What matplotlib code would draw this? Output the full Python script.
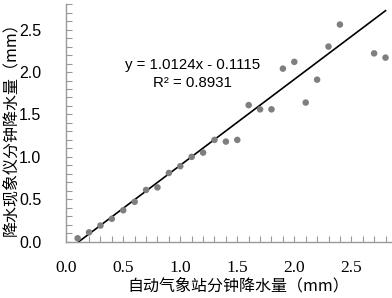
import numpy as np
import matplotlib.pyplot as plt
from matplotlib.ticker import MultipleLocator

# 自动气象站 vs 降水现象仪 分钟降水量 (mm)
aws_rain = [0.1, 0.2, 0.3, 0.4, 0.5, 0.6, 0.7, 0.8, 0.9, 1.0, 1.1, 1.2, 1.3,
            1.4, 1.5, 1.6, 1.7, 1.8, 1.9, 2.0, 2.1, 2.2, 2.3, 2.4, 2.7, 2.8]
disdro_rain = [0.04, 0.11, 0.19, 0.27, 0.37, 0.47, 0.61, 0.64, 0.81, 0.89, 1.0,
               1.05, 1.2, 1.18, 1.2, 1.61, 1.56, 1.56, 2.04, 2.12, 1.64, 1.91,
               2.3, 2.56, 2.22, 2.17]

slope = 1.0124
intercept = -0.1115
r2 = 0.8931

xticks = [0.0, 0.5, 1.0, 1.5, 2.0, 2.5]
yticks = [0.0, 0.5, 1.0, 1.5, 2.0, 2.5]

fig = plt.figure(figsize=(3.92, 2.98), dpi=100)
ax = fig.add_axes([0.169, 0.189, 0.829, 0.797])

ax.scatter(aws_rain, disdro_rain, s=22, color='#7f7f7f', edgecolors='none', zorder=3)

# trend line
x_line = np.array([-intercept / slope, 2.8])
ax.plot(x_line, slope * x_line + intercept, color='black', lw=1.2, zorder=2)

ax.text(1.107, 2.08, 'y = 1.0124x - 0.1115', ha='center', va='center',
        fontsize=10.8, family='Liberation Sans')
ax.text(1.107, 1.87, 'R² = ' + f'{r2:.4f}', ha='center', va='center',
        fontsize=10.8, family='Liberation Sans')

ax.set_xlim(0, 2.85)
ax.set_ylim(0, 2.8)
ax.set_xticks(xticks)
ax.set_xticklabels([f'{t:.1f}' for t in xticks], family='Liberation Serif', fontsize=12.5)
ax.set_yticks(yticks)
ax.set_yticklabels([f'{t:.1f}' for t in yticks], family='Liberation Sans', fontsize=11.5)
ax.xaxis.set_minor_locator(MultipleLocator(0.1))
ax.yaxis.set_minor_locator(MultipleLocator(0.1))
ax.tick_params(which='both', direction='in', length=4, width=0.8, color='#999999')
ax.tick_params(axis='y', which='major', pad=18)
ax.tick_params(axis='x', which='major', pad=13)

for side in ['top', 'right']:
    ax.spines[side].set_visible(False)
for side in ['left', 'bottom']:
    ax.spines[side].set_color('#999999')
    ax.spines[side].set_linewidth(1.0)

ax.set_xlabel('自动气象站分钟降水量（mm）', family=['Noto Sans CJK SC', 'DejaVu Sans'],
              fontsize=11.5)
ax.xaxis.set_label_coords(0.53, -0.185)
ax.xaxis.label.set_va('center')
ax.set_ylabel('降水现象仪分钟降水量（mm）', family=['Noto Sans CJK SC', 'DejaVu Sans'],
              fontsize=11.5)
ax.yaxis.set_label_coords(-0.172, 0.49)
ax.yaxis.label.set_va('center')

fig.savefig('out.png', dpi=100)
